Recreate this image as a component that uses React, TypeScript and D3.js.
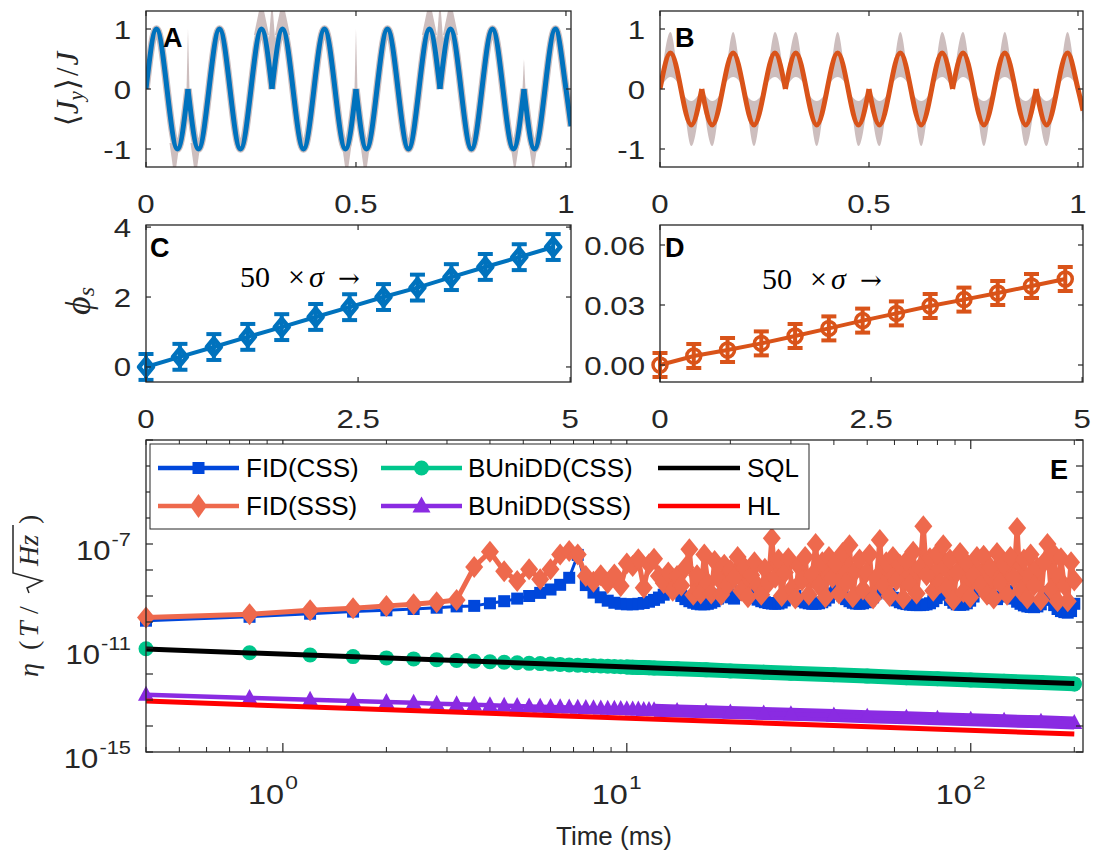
import React from "react";
import * as d3 from "d3";

const SANS = "'Liberation Sans', Arial, Helvetica, sans-serif";
const SERIF = "'Liberation Serif', 'Times New Roman', 'DejaVu Serif', serif";
const AXC = "#262626";

// ---------------- Panel A / B : turning points of the traces (split at the phase-reversal cusps) ----------------
const jyTimes: number[][] = [
  [0, 0.025, 0.075, 0.1],
  [0.1, 0.125, 0.175, 0.225, 0.275, 0.3],
  [0.3, 0.325, 0.375, 0.425, 0.475, 0.5],
  [0.5, 0.525, 0.575, 0.625, 0.675, 0.7],
  [0.7, 0.725, 0.775, 0.825, 0.875, 0.9],
  [0.9, 0.925, 0.975, 1.0, 1.012],
];
const jyCss: number[][] = [
  [0, 1, -1, 0],
  [0, -1, 1, -1, 1, 0],
  [0, 1, -1, 1, -1, 0],
  [0, -1, 1, -1, 1, 0],
  [0, 1, -1, 1, -1, 0],
  [0, -1, 1, 0, -0.62],
];
const jySss: number[][] = [
  [0, 0.6, -0.6, 0],
  [0, -0.6, 0.6, -0.6, 0.6, 0],
  [0, 0.6, -0.6, 0.6, -0.6, 0],
  [0, -0.6, 0.6, -0.6, 0.6, 0],
  [0, 0.6, -0.6, 0.6, -0.6, 0],
  [0, -0.6, 0.6, 0, -0.36],
];
// Panel A uncertainty spikes near the cusps
const spikeT = [0.068, 0.1, 0.118, 0.275, 0.3, 0.325, 0.478, 0.5, 0.522, 0.675, 0.7, 0.725, 0.878, 0.9, 0.922];
const spikeBase = [-0.9, 0, -0.9, 0.9, 0.4, 0.9, -0.9, 0, -0.9, 0.9, 0.4, 0.9, -0.9, 0, -0.9];
const spikeTip = [-1.5, 1.0, -1.5, 1.5, 1.5, 1.5, -1.5, 1.0, -1.5, 1.5, 1.5, 1.5, -1.4, 0.5, -1.4];
const spikeHW = [0.012, 0.0035, 0.012, 0.018, 0.012, 0.018, 0.012, 0.0035, 0.012, 0.018, 0.012, 0.018, 0.011, 0.0035, 0.011];
// Panel B shaded band
const bandTimes: number[][] = [
  [0, 0.025, 0.05, 0.075, 0.1],
  [0.1, 0.125, 0.15, 0.175, 0.2, 0.225, 0.25, 0.275, 0.3],
  [0.3, 0.325, 0.35, 0.375, 0.4, 0.425, 0.45, 0.475, 0.5],
  [0.5, 0.525, 0.55, 0.575, 0.6, 0.625, 0.65, 0.675, 0.7],
  [0.7, 0.725, 0.75, 0.775, 0.8, 0.825, 0.85, 0.875, 0.9],
  [0.9, 0.925, 0.95, 0.975, 1.0, 1.012],
];
const bandHi: number[][] = [
  [0, 0.95, 0, -0.2, 0],
  [0, -0.2, 0, 0.95, 0, -0.2, 0, 0.95, 0],
  [0, 0.95, 0, -0.2, 0, 0.95, 0, -0.2, 0],
  [0, -0.2, 0, 0.95, 0, -0.2, 0, 0.95, 0],
  [0, 0.95, 0, -0.2, 0, 0.95, 0, -0.2, 0],
  [0, -0.2, 0, 0.95, 0, -0.12],
];
const bandLo: number[][] = [
  [0, 0.2, 0, -0.95, 0],
  [0, -0.95, 0, 0.2, 0, -0.95, 0, 0.2, 0],
  [0, 0.2, 0, -0.95, 0, 0.2, 0, -0.95, 0],
  [0, -0.95, 0, 0.2, 0, -0.95, 0, 0.2, 0],
  [0, 0.2, 0, -0.95, 0, 0.2, 0, -0.95, 0],
  [0, -0.95, 0, 0.2, 0, -0.57],
];

// ---------------- Panel C / D ----------------
const phaseX = [0, 0.4, 0.8, 1.2, 1.6, 2.0, 2.4, 2.8, 3.2, 3.6, 4.0, 4.4, 4.8];
const phiCss = [0, 0.29, 0.57, 0.86, 1.14, 1.43, 1.71, 2.0, 2.27, 2.57, 2.86, 3.14, 3.43];
const errCss = [0.37, 0.37, 0.37, 0.37, 0.37, 0.37, 0.37, 0.37, 0.37, 0.37, 0.37, 0.37, 0.37];
const phiSss = [0, 0.0045, 0.0075, 0.0108, 0.0145, 0.0183, 0.0222, 0.0258, 0.0295, 0.0327, 0.036, 0.0395, 0.043];
const errSss = [0.006, 0.006, 0.006, 0.006, 0.006, 0.006, 0.006, 0.006, 0.006, 0.006, 0.006, 0.006, 0.006];

// ---------------- Panel E (values as log10) ----------------
const fidTimes = [
  0.4, 0.8, 1.2, 1.6, 2.0, 2.4, 2.8, 3.2, 3.6, 4.0,
  4.4, 4.8, 5.2, 5.6, 6.0, 6.4, 6.8, 7.2, 7.6, 8.0,
  8.4, 8.8, 9.2, 9.6, 10.0, 10.4, 10.8, 11.2, 11.6, 12.0,
  12.4, 12.8, 13.2, 13.6, 14.0, 14.4, 14.8, 15.2, 15.6, 16.0,
  16.4, 16.8, 17.2, 17.6, 18.0, 18.4, 18.8, 19.2, 19.6, 20.0,
  20.5, 21, 21.5, 22, 22.5, 23, 23.5, 24,
  24.6, 25.2, 25.8, 26.4, 27, 27.6, 28.2, 28.8,
  29.5, 30.2, 30.9, 31.6, 32.3, 33,
  33.8, 34.6, 35.4, 36.2, 37,
  37.8, 38.7, 39.6, 40.5, 41.4,
  42.4, 43.4, 44.4, 45.4, 46.4,
  47.5, 48.6, 49.7, 50.8, 52,
  53.2, 54.4, 55.6, 56.8, 58.1,
  59.4, 60.8, 62.2, 63.6, 65,
  66.5, 68, 69.6, 71.2, 72.8,
  74.4, 76.1, 77.8, 79.6, 81.4,
  83.2, 85.1, 87, 89, 91,
  93.1, 95.2, 97.4, 99.6, 101.9,
  104.2, 106.6, 109, 111.5, 114,
  116.6, 119.2, 121.9, 124.7, 127.5,
  130.4, 133.4, 136.4, 139.5, 142.7,
  146, 149.3, 152.7, 156.2, 159.8,
  163.4, 167.1, 170.9, 174.8, 178.8,
  182.9, 187.1, 191.4, 195.7, 200,
];
const fidCssExp = [
  -9.95, -9.8, -9.68, -9.6, -9.55, -9.5, -9.45, -9.4, -9.38, -9.28,
  -9.2, -9.1, -9.0, -8.88, -8.75, -8.57, -8.3, -7.42, -8.58, -8.87,
  -9.05, -9.18, -9.26, -9.3, -9.32, -9.32, -9.3, -9.27, -9.22, -9.15,
  -9.06, -8.95, -8.8, -8.6, -8.85, -9.0, -9.12, -9.2, -9.26, -9.3,
  -9.32, -9.32, -9.3, -9.26, -9.2, -9.1, -8.95, -8.65, -8.9, -9.05,
  -9.1, -8.95, -8.82, -8.75, -8.85, -8.97, -9.07, -9.14,
  -9.2, -9.24, -9.27, -9.29, -9.3, -9.29, -9.25, -9.17,
  -9.02, -8.85, -9.0, -9.12, -9.2, -9.25,
  -9.28, -9.3, -9.3, -9.28, -9.24,
  -9.17, -9.06, -8.9, -8.68, -8.85,
  -9.0, -9.12, -9.2, -9.26, -9.29,
  -9.3, -9.28, -9.24, -9.17, -9.05,
  -8.9, -8.72, -8.55, -8.7, -8.92,
  -9.07, -9.17, -9.24, -9.28, -9.31,
  -9.33, -9.34, -9.35, -9.35, -9.34,
  -9.32, -9.28, -9.2, -9.08, -8.9,
  -8.72, -8.95, -9.15, -9.26, -9.32,
  -9.34, -9.33, -9.28, -9.18, -9.02,
  -8.8, -8.6, -8.45, -8.65, -8.9,
  -9.08, -9.12, -9.02, -8.88, -8.8,
  -8.95, -9.1, -9.22, -9.3, -9.36,
  -9.4, -9.42, -9.43, -9.4, -9.32,
  -9.15, -8.85, -9.1, -9.35, -9.5,
  -9.58, -9.62, -9.64, -9.58, -9.3,
];
const fidSssExp = [
  -9.83, -9.7, -9.55, -9.47, -9.38, -9.32, -9.24, -9.15, -7.88, -7.3,
  -8.05, -8.42, -7.97, -8.36, -7.97, -7.4, -7.27, -7.4, -8.23, -8.45,
  -8.2, -8.5, -8.17, -8.62, -7.75, -7.85, -7.59, -8.68, -7.78, -7.57,
  -8.23, -8.5, -8.1, -8.8, -8.23, -8.6, -7.9, -7.2, -8.95, -8.2,
  -8.9, -7.4, -8.5, -8.9, -7.65, -8.3, -8.95, -7.8, -8.6, -8.0,
  -8.3, -7.5, -8.8, -7.9, -9.05, -8.2, -7.7, -8.6,
  -8.95, -7.95, -8.5, -6.78, -8.3, -7.6, -9.0, -8.1,
  -7.55, -8.7, -9.1, -7.85, -8.4, -7.5,
  -8.95, -8.2, -7.0, -8.6, -7.7,
  -9.05, -7.5, -8.3, -7.75, -8.9,
  -7.35, -8.5, -7.05, -9.05, -8.0,
  -7.6, -8.75, -8.1, -7.4, -9.1,
  -8.3, -6.85, -8.6, -7.7, -9.0,
  -7.5, -8.4, -7.8, -9.1, -7.65,
  -8.55, -7.3, -8.9, -7.9, -6.32,
  -8.2, -7.55, -8.8, -7.4, -8.5,
  -7.05, -8.7, -7.6, -9.15, -8.1,
  -7.35, -8.85, -7.75, -9.05, -8.2,
  -7.5, -8.6, -7.45, -8.95, -7.9,
  -9.1, -7.35, -8.5, -7.8, -8.95,
  -7.5, -8.3, -6.38, -8.8, -7.6,
  -9.1, -7.4, -8.6, -7.9, -9.15,
  -7.7, -7.0, -8.75, -7.4, -9.2,
  -7.55, -8.6, -9.2, -7.7, -8.4,
];
const ddTimes = [
  0.4, 0.8, 1.2, 1.6, 2.0, 2.4, 2.8, 3.2, 3.6, 4.0,
  4.4, 4.8, 5.2, 5.6, 6.0, 6.4, 6.8, 7.2, 7.6, 8.0,
  8.4, 8.8, 9.2, 9.6, 10.0, 10.4, 10.8, 11.2, 11.6, 12.0,
  14, 17, 20, 25, 30, 40, 50, 65, 80, 100, 125, 160, 200,
];
const ddCssExp = [
  -11.03, -11.18, -11.27, -11.33, -11.38, -11.42, -11.45, -11.48, -11.51, -11.53,
  -11.55, -11.57, -11.59, -11.6, -11.62, -11.63, -11.65, -11.66, -11.67, -11.68,
  -11.69, -11.7, -11.71, -11.72, -11.73, -11.74, -11.75, -11.75, -11.76, -11.77,
  -11.8, -11.84, -11.88, -11.93, -11.97, -12.03, -12.08, -12.14, -12.18, -12.23, -12.28, -12.33, -12.38,
];
const ddSssExp = [
  -12.8, -12.92, -12.99, -13.04, -13.08, -13.11, -13.14, -13.16, -13.18, -13.2,
  -13.22, -13.23, -13.25, -13.26, -13.27, -13.28, -13.29, -13.3, -13.31, -13.32,
  -13.33, -13.34, -13.34, -13.35, -13.36, -13.37, -13.37, -13.38, -13.38, -13.39,
  -13.42, -13.45, -13.48, -13.52, -13.55, -13.6, -13.64, -13.68, -13.72, -13.76, -13.8, -13.84, -13.88,
];
const limitTimes = [0.4, 200];
const sqlExp = [-11.04, -12.37];
const hlExp = [-13.04, -14.31];

const legendLabels = ["FID(CSS)", "BUniDD(CSS)", "SQL", "FID(SSS)", "BUniDD(SSS)", "HL"];

const C_BLUE = "#0072BD";
const C_ORANGE = "#D95319";
const C_BAND = "#CDBEBE";
const E_BLUE = "#0047DB";
const E_ORANGE = "#EE694D";
const E_GREEN = "#00C68C";
const E_PURPLE = "#8A2BE2";
const E_RED = "#FF0000";
const TICK_FS = 26;
const TICK_SX = 1.2;

type Box = { x0: number; x1: number; y0: number; y1: number };

function SText(props: { x: number; y: number; anchor: string; fs: number; sx?: number; children: any; color?: string }) {
  const { x, y, anchor, fs, sx = 1, children, color = AXC } = props;
  return (
    <text transform={`translate(${x},${y}) scale(${sx},1)`} textAnchor={anchor as any} fontFamily={SANS} fontSize={fs} fill={color}>
      {children}
    </text>
  );
}

function LinAxes(props: {
  box: Box; x: any; y: any; xt: number[]; yt: number[]; xl: string[]; yl: string[]; ylx: number; xly: number;
}) {
  const { box, x, y, xt, yt, xl, yl, ylx, xly } = props;
  return (
    <g>
      <rect x={box.x0} y={box.y0} width={box.x1 - box.x0} height={box.y1 - box.y0} fill="none" stroke={AXC} strokeWidth={1.3} />
      {xt.map((v) => (
        <g key={"xt" + v} stroke={AXC} strokeWidth={1.2}>
          <line x1={x(v)} x2={x(v)} y1={box.y1} y2={box.y1 - 5} />
          <line x1={x(v)} x2={x(v)} y1={box.y0} y2={box.y0 + 5} />
        </g>
      ))}
      {yt.map((v) => (
        <g key={"yt" + v} stroke={AXC} strokeWidth={1.2}>
          <line x1={box.x0} x2={box.x0 + 5} y1={y(v)} y2={y(v)} />
          <line x1={box.x1} x2={box.x1 - 5} y1={y(v)} y2={y(v)} />
        </g>
      ))}
      {xt.map((v, i) => (
        <SText key={"xl" + v} x={x(v)} y={xly} anchor="middle" fs={TICK_FS} sx={TICK_SX}>{xl[i]}</SText>
      ))}
      {yt.map((v, i) => (
        <SText key={"yl" + v} x={ylx} y={y(v) + 9.5} anchor="end" fs={TICK_FS} sx={TICK_SX}>{yl[i]}</SText>
      ))}
    </g>
  );
}

const diamondPath = (cx: number, cy: number, hw: number, hh: number) =>
  `M${cx},${cy - hh}L${cx + hw},${cy}L${cx},${cy + hh}L${cx - hw},${cy}Z`;
const trianglePath = (cx: number, cy: number, hw: number, h: number) =>
  `M${cx},${cy - h * 0.6}L${cx + hw},${cy + h * 0.4}L${cx - hw},${cy + h * 0.4}Z`;

export default function App() {
  const pA: Box = { x0: 146, x1: 571, y0: 11, y1: 167 };
  const pB: Box = { x0: 660, x1: 1083, y0: 11, y1: 167 };
  const pC: Box = { x0: 146, x1: 571, y0: 225, y1: 382 };
  const pD: Box = { x0: 660, x1: 1083, y0: 225, y1: 382 };
  const pE: Box = { x0: 146, x1: 1083, y0: 440, y1: 752 };

  const xA = d3.scaleLinear().domain([0, 1.012]).range([pA.x0, pA.x1]);
  const yA = d3.scaleLinear().domain([-1.3, 1.3]).range([pA.y1, pA.y0]);
  const xB = d3.scaleLinear().domain([0, 1.012]).range([pB.x0, pB.x1]);
  const yB = d3.scaleLinear().domain([-1.3, 1.3]).range([pB.y1, pB.y0]);
  const xC = d3.scaleLinear().domain([0, 5.01]).range([pC.x0, pC.x1]);
  const yC = d3.scaleLinear().domain([-0.43, 4.06]).range([pC.y1, pC.y0]);
  const xD = d3.scaleLinear().domain([0, 5.01]).range([pD.x0, pD.x1]);
  const yD = d3.scaleLinear().domain([-0.0085, 0.07]).range([pD.y1, pD.y0]);
  const xE = d3.scaleLog().domain([0.4, 212]).range([pE.x0, pE.x1]);
  const yE = d3.scaleLog().domain([1e-15, 1e-3]).range([pE.y1, pE.y0]);

  const segLine = (xs: any, ys: any) =>
    d3.line<[number, number]>().x((d) => xs(d[0])).y((d) => ys(d[1])).curve(d3.curveMonotoneX);

  const lineA = segLine(xA, yA);
  const lineB = segLine(xB, yB);
  const areaB = d3
    .area<[number, number, number]>()
    .x((d) => xB(d[0]))
    .y0((d) => yB(d[2]))
    .y1((d) => yB(d[1]))
    .curve(d3.curveMonotoneX);

  const pathsA = jyTimes.map((ts, i) => lineA(ts.map((t, j) => [t, jyCss[i][j]] as [number, number])) || "");
  const pathsB = jyTimes.map((ts, i) => lineB(ts.map((t, j) => [t, jySss[i][j]] as [number, number])) || "");
  const bandsB = bandTimes.map((ts, i) => areaB(ts.map((t, j) => [t, bandHi[i][j], bandLo[i][j]] as [number, number, number])) || "");

  const lineC = d3.line<number>().x((_, i) => xC(phaseX[i])).y((d) => yC(d));
  const lineD = d3.line<number>().x((_, i) => xD(phaseX[i])).y((d) => yD(d));

  const eLine = d3.line<[number, number]>().x((d) => xE(d[0])).y((d) => yE(d[1]));
  const toPts = (ts: number[], ex: number[]) => ts.map((t, i) => [t, Math.pow(10, ex[i])] as [number, number]);
  const ptsCss = toPts(fidTimes, fidCssExp);
  const ptsSss = toPts(fidTimes, fidSssExp);
  const ptsDdC = toPts(ddTimes, ddCssExp);
  const ptsDdS = toPts(ddTimes, ddSssExp);
  const ptsSql = toPts(limitTimes, sqlExp);
  const ptsHl = toPts(limitTimes, hlExp);

  // log axis ticks
  const xMajor = [1, 10, 100];
  const xMinor: number[] = [];
  [0.1, 1, 10, 100].forEach((dec) => {
    for (let k = 2; k <= 9; k++) {
      const v = k * dec;
      if (v >= 0.4 && v <= 212) xMinor.push(v);
    }
  });
  const yDecades = d3.range(-15, -2);
  const yLabExp = [-15, -11, -7];

  const legendRows = [468, 506];
  const legendCols = [
    { l0: 158, l1: 239, tx: 246 },
    { l0: 381, l1: 462, tx: 468 },
    { l0: 658, l1: 740, tx: 747 },
  ];

  return (
    <svg width={1094} height={854} style={{ position: "absolute", left: 0, top: 0, background: "#fff" }}>
      <defs>
        <clipPath id="clipA"><rect x={pA.x0} y={pA.y0} width={pA.x1 - pA.x0} height={pA.y1 - pA.y0} /></clipPath>
        <clipPath id="clipB"><rect x={pB.x0} y={pB.y0} width={pB.x1 - pB.x0} height={pB.y1 - pB.y0} /></clipPath>
      </defs>
      <rect x={0} y={0} width={1094} height={854} fill="#fff" />

      {/* ---------- Panel A ---------- */}
      <g clipPath="url(#clipA)">
        {spikeT.map((t, i) => (
          <path key={"sp" + i} fill={C_BAND}
            d={`M${xA(t - spikeHW[i])},${yA(spikeBase[i])}L${xA(t)},${yA(spikeTip[i])}L${xA(t + spikeHW[i])},${yA(spikeBase[i])}Z`} />
        ))}
        {pathsA.map((d, i) => <path key={"ha" + i} d={d} fill="none" stroke={C_BAND} strokeWidth={7.5} strokeLinejoin="round" />)}
        {pathsA.map((d, i) => <path key={"la" + i} d={d} fill="none" stroke={C_BLUE} strokeWidth={5} strokeLinejoin="round" />)}
      </g>
      <LinAxes box={pA} x={xA} y={yA} xt={[0, 0.5, 1]} yt={[-1, 0, 1]} xl={["0", "0.5", "1"]} yl={["-1", "0", "1"]} ylx={131} xly={213} />
      <text x={163} y={47} fontFamily={SANS} fontWeight="bold" fontSize={27} fill="#000">A</text>
      <text transform="translate(78,89) rotate(-90)" textAnchor="middle" fontFamily={SERIF} fontSize={31} fill={AXC}>
        <tspan>⟨</tspan>
        <tspan fontStyle="italic">J</tspan>
        <tspan fontStyle="italic" fontSize={21} dy={5}>y</tspan>
        <tspan dy={-5} dx={1}>⟩</tspan>
        <tspan dx={2}>/</tspan>
        <tspan fontStyle="italic" dx={2}>J</tspan>
      </text>

      {/* ---------- Panel B ---------- */}
      <g clipPath="url(#clipB)">
        {bandsB.map((d, i) => <path key={"bb" + i} d={d} fill={C_BAND} />)}
        {pathsB.map((d, i) => <path key={"lb" + i} d={d} fill="none" stroke={C_ORANGE} strokeWidth={5} strokeLinejoin="round" />)}
      </g>
      <LinAxes box={pB} x={xB} y={yB} xt={[0, 0.5, 1]} yt={[-1, 0, 1]} xl={["0", "0.5", "1"]} yl={["-1", "0", "1"]} ylx={645} xly={213} />
      <text x={675} y={47} fontFamily={SANS} fontWeight="bold" fontSize={27} fill="#000">B</text>

      {/* ---------- Panel C ---------- */}
      <path d={lineC(phiCss) || ""} fill="none" stroke={C_BLUE} strokeWidth={4} />
      {phiCss.map((v, i) => {
        const cx = xC(phaseX[i]);
        const t = yC(v + errCss[i]);
        const b = yC(v - errCss[i]);
        return (
          <g key={"ec" + i} stroke={C_BLUE} strokeWidth={4} fill="none">
            <line x1={cx} x2={cx} y1={t} y2={b} />
            <line x1={cx - 7.5} x2={cx + 7.5} y1={t} y2={t} />
            <line x1={cx - 7.5} x2={cx + 7.5} y1={b} y2={b} />
            <path d={diamondPath(cx, yC(v), 7, 8.5)} strokeWidth={4.5} strokeLinejoin="round" />
          </g>
        );
      })}
      <LinAxes box={pC} x={xC} y={yC} xt={[0, 2.5, 5]} yt={[0, 2, 4]} xl={["0", "2.5", "5"]} yl={["0", "2", "4"]} ylx={131} xly={428} />
      <text x={150} y={257} fontFamily={SANS} fontWeight="bold" fontSize={27} fill="#000">C</text>
      <text transform="translate(90,301) rotate(-90)" textAnchor="middle" fontFamily={SERIF} fontSize={36} fill={AXC}>
        <tspan fontStyle="italic">ϕ</tspan>
        <tspan fontStyle="italic" fontSize={24} dy={4}>s</tspan>
      </text>
      <g fontFamily={SERIF} fontSize={30} fill="#000">
        <text x={240} y={287}>50</text>
        <text x={288} y={287}>×</text>
        <text x={309} y={287} fontStyle="italic">σ</text>
        <text x={338} y={287} fontFamily="'DejaVu Serif', serif" fontSize={26}>→</text>
      </g>

      {/* ---------- Panel D ---------- */}
      <path d={lineD(phiSss) || ""} fill="none" stroke={C_ORANGE} strokeWidth={4} />
      {phiSss.map((v, i) => {
        const cx = xD(phaseX[i]);
        const t = yD(v + errSss[i]);
        const b = yD(v - errSss[i]);
        return (
          <g key={"ed" + i} stroke={C_ORANGE} strokeWidth={4} fill="none">
            <line x1={cx} x2={cx} y1={t} y2={b} />
            <line x1={cx - 7.5} x2={cx + 7.5} y1={t} y2={t} />
            <line x1={cx - 7.5} x2={cx + 7.5} y1={b} y2={b} />
            <circle cx={cx} cy={yD(v)} r={7} strokeWidth={3.5} />
          </g>
        );
      })}
      <LinAxes box={pD} x={xD} y={yD} xt={[0, 2.5, 5]} yt={[0, 0.03, 0.06]} xl={["0", "2.5", "5"]} yl={["0.00", "0.03", "0.06"]} ylx={645} xly={428} />
      <text x={665} y={257} fontFamily={SANS} fontWeight="bold" fontSize={27} fill="#000">D</text>
      <g fontFamily={SERIF} fontSize={30} fill="#000">
        <text x={762} y={289}>50</text>
        <text x={810} y={289}>×</text>
        <text x={831} y={289} fontStyle="italic">σ</text>
        <text x={860} y={289} fontFamily="'DejaVu Serif', serif" fontSize={26}>→</text>
      </g>

      {/* ---------- Panel E ---------- */}
      {/* FID(CSS) */}
      <path d={eLine(ptsCss) || ""} fill="none" stroke={E_BLUE} strokeWidth={3} strokeLinejoin="round" />
      {ptsCss.map((p, i) => (
        <rect key={"sq" + i} x={xE(p[0]) - 6} y={yE(p[1]) - 6} width={12} height={12} fill={E_BLUE} />
      ))}
      {/* FID(SSS) */}
      <path d={eLine(ptsSss) || ""} fill="none" stroke={E_ORANGE} strokeWidth={5} strokeLinejoin="round" />
      {ptsSss.map((p, i) => (
        <path key={"dm" + i} d={diamondPath(xE(p[0]), yE(p[1]), 9, 11)} fill={E_ORANGE} />
      ))}
      {/* BUniDD(CSS) */}
      <path d={eLine(ptsDdC.filter((p) => p[0] >= 10)) || ""} fill="none" stroke={E_GREEN} strokeWidth={15} strokeLinecap="round" />
      <path d={eLine(ptsDdC) || ""} fill="none" stroke={E_GREEN} strokeWidth={3} />
      {ptsDdC.map((p, i) => (
        <circle key={"gc" + i} cx={xE(p[0])} cy={yE(p[1])} r={7.5} fill={E_GREEN} />
      ))}
      {/* BUniDD(SSS) */}
      <path d={eLine(ptsDdS.filter((p) => p[0] >= 12)) || ""} fill="none" stroke={E_PURPLE} strokeWidth={13} />
      <path d={eLine(ptsDdS) || ""} fill="none" stroke={E_PURPLE} strokeWidth={4.5} />
      {ptsDdS.map((p, i) => (
        <path key={"tr" + i} d={trianglePath(xE(p[0]), yE(p[1]), 8, 15)} fill={E_PURPLE} />
      ))}
      {/* SQL and HL */}
      <path d={eLine(ptsSql) || ""} fill="none" stroke="#000" strokeWidth={5} />
      <path d={eLine(ptsHl) || ""} fill="none" stroke={E_RED} strokeWidth={5} />

      {/* E axes */}
      <rect x={pE.x0} y={pE.y0} width={pE.x1 - pE.x0} height={pE.y1 - pE.y0} fill="none" stroke={AXC} strokeWidth={1.3} />
      {xMajor.map((v) => (
        <g key={"xM" + v} stroke={AXC} strokeWidth={1.2}>
          <line x1={xE(v)} x2={xE(v)} y1={pE.y1} y2={pE.y1 - 9} />
          <line x1={xE(v)} x2={xE(v)} y1={pE.y0} y2={pE.y0 + 9} />
        </g>
      ))}
      {xMinor.map((v) => (
        <g key={"xm" + v} stroke={AXC} strokeWidth={1}>
          <line x1={xE(v)} x2={xE(v)} y1={pE.y1} y2={pE.y1 - 5} />
          <line x1={xE(v)} x2={xE(v)} y1={pE.y0} y2={pE.y0 + 5} />
        </g>
      ))}
      {yDecades.map((e) => (
        <g key={"yd" + e} stroke={AXC} strokeWidth={1.2}>
          <line x1={pE.x0} x2={pE.x0 + 7} y1={yE(Math.pow(10, e))} y2={yE(Math.pow(10, e))} />
          <line x1={pE.x1} x2={pE.x1 - 7} y1={yE(Math.pow(10, e))} y2={yE(Math.pow(10, e))} />
        </g>
      ))}
      {xMajor.map((v, i) => (
        <SText key={"xlab" + v} x={xE(v) - 10} y={804} anchor="middle" fs={27} sx={1.2}>
          10<tspan fontSize={19} dy={-15} dx={1}>{String(i)}</tspan>
        </SText>
      ))}
      {yLabExp.map((e) => (
        <SText key={"ylab" + e} x={131} y={yE(Math.pow(10, e)) + 16} anchor="end" fs={27} sx={1.15}>
          10<tspan fontSize={19} dy={-14} dx={1}>{String(e)}</tspan>
        </SText>
      ))}
      <text x={614} y={845} textAnchor="middle" fontFamily={SANS} fontSize={26} fill={AXC}>Time (ms)</text>
      {/* eta label */}
      <g transform="translate(38,677) rotate(-90)" fontFamily={SERIF} fontSize={28} fill={AXC}>
        <text x={0} y={0} fontStyle="italic">η</text>
        <text x={27} y={0}>(</text>
        <text x={40} y={0} fontStyle="italic">T</text>
        <text x={63} y={0}>/</text>
        <path d="M84,-9 L89,-11 L96,4 L104,-25 L152,-25" fill="none" stroke={AXC} strokeWidth={1.5} />
        <text x={111} y={0} fontStyle="italic">Hz</text>
        <text x={153} y={0}>)</text>
      </g>
      <text x={1050} y={479} fontFamily={SANS} fontWeight="bold" fontSize={27} fill="#000">E</text>

      {/* Legend */}
      <rect x={150} y={444} width={659} height={85} fill="#fff" stroke={AXC} strokeWidth={1} />
      {legendLabels.map((lab, i) => {
        const row = Math.floor(i / 3);
        const col = i % 3;
        const ly = legendRows[row];
        const c = legendCols[col];
        const colors = [E_BLUE, E_GREEN, "#000", E_ORANGE, E_PURPLE, E_RED];
        const mx = (c.l0 + c.l1) / 2;
        let marker: any = null;
        if (i === 0) marker = <rect x={mx - 6} y={ly - 6} width={12} height={12} fill={E_BLUE} />;
        if (i === 1) marker = <circle cx={mx} cy={ly} r={7.5} fill={E_GREEN} />;
        if (i === 3) marker = <path d={diamondPath(mx, ly, 8.5, 12)} fill={E_ORANGE} />;
        if (i === 4) marker = <path d={trianglePath(mx, ly, 9, 16)} fill={E_PURPLE} />;
        return (
          <g key={"lg" + i}>
            <line x1={c.l0} x2={c.l1} y1={ly} y2={ly} stroke={colors[i]} strokeWidth={4.5} />
            {marker}
            <text x={c.tx} y={ly + 9} fontFamily={SANS} fontSize={26} fill="#000">{lab}</text>
          </g>
        );
      })}
    </svg>
  );
}
